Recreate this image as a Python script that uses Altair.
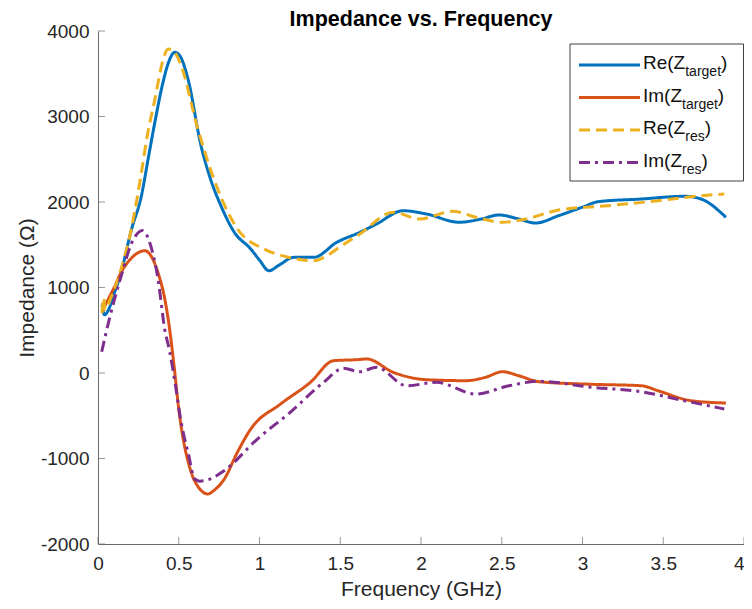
import altair as alt
import pandas as pd

# ---- data ----
re_t_f = [0.025, 0.04, 0.06, 0.10, 0.137, 0.208, 0.269, 0.31, 0.352, 0.40, 0.44, 0.475, 0.51, 0.557,
          0.638, 0.70, 0.761, 0.844, 0.946, 1.0, 1.059, 1.12, 1.213, 1.336, 1.479, 1.622, 1.725, 1.889,
          2.033, 2.237, 2.37, 2.483, 2.606, 2.709, 2.852, 3.0, 3.098, 3.365, 3.632, 3.734, 3.888]
re_t_v = [800, 680, 720, 930, 1135, 1684, 2074, 2500, 2932, 3380, 3650, 3751, 3700, 3439,
          2658, 2250, 1957, 1646, 1450, 1320, 1196, 1260, 1353, 1353, 1529, 1646, 1743, 1898,
          1860, 1763, 1800, 1848, 1801, 1754, 1840, 1940, 2004, 2035, 2067, 2035, 1821]

im_t_f = [0.023, 0.10, 0.15, 0.20, 0.29, 0.34, 0.38, 0.41, 0.44, 0.47, 0.50, 0.577, 0.62, 0.68, 0.72,
          0.782, 0.864, 0.946, 1.13, 1.315, 1.459, 1.602, 1.664, 1.828, 2.033, 2.279, 2.40, 2.504,
          2.606, 2.73, 3.058, 3.365, 3.467, 3.673, 3.888]
im_t_v = [717, 1000, 1200, 1330, 1430, 1330, 1120, 900, 560, 100, -420, -1161, -1330, -1415, -1370,
          -1240, -924, -655, -363, -109, 144, 156, 164, 8, -78, -90, -50, 15,
          -32, -102, -132, -149, -207, -324, -351]

re_r_f = [0.025, 0.035, 0.045, 0.08, 0.137, 0.208, 0.269, 0.30, 0.352, 0.40, 0.434, 0.475, 0.515,
          0.618, 0.741, 0.864, 1.028, 1.172, 1.336, 1.418, 1.479, 1.622, 1.828, 1.991, 2.197, 2.34,
          2.504, 2.648, 2.852, 3.16, 3.467, 3.673, 3.878]
re_r_v = [700, 880, 740, 880, 1180, 1700, 2347, 2720, 3200, 3640, 3789, 3750, 3594,
          2854, 2152, 1684, 1450, 1357, 1313, 1372, 1450, 1626, 1880, 1801, 1891, 1821,
          1763, 1801, 1906, 1957, 2015, 2062, 2094]

im_r_f = [0.023, 0.075, 0.137, 0.218, 0.276, 0.321, 0.372, 0.413, 0.444, 0.48, 0.515, 0.56, 0.598,
          0.63, 0.68, 0.782, 0.987, 1.19, 1.397, 1.52, 1.622, 1.725, 1.91, 2.094, 2.34, 2.545, 2.73,
          3.058, 3.365, 3.63, 3.878]
im_r_v = [249, 667, 1093, 1558, 1666, 1520, 1093, 513, 250, -150, -577, -950, -1240,
          -1265, -1250, -1142, -772, -460, -109, 55, 15, 67, -149, -109, -246, -149, -97,
          -167, -219, -324, -421]

series_base = ["Re(Z", "Im(Z", "Re(Z", "Im(Z"]
series_sub = ["target", "target", "res", "res"]
series_color = ["#0072BD", "#D95319", "#EDB120", "#7E2F8E"]
series_dash = [[1, 0], [1, 0], [11, 6], [11, 5, 3, 5]]

x_ticks = [0, 0.5, 1, 1.5, 2, 2.5, 3, 3.5, 4]
y_ticks = [-2000, -1000, 0, 1000, 2000, 3000, 4000]

FONT = "Liberation Sans"
W, H = 646, 513
AX = "#6b6b6b"
TXT = "#262626"

xs = alt.Scale(domain=[0, 4], nice=False, zero=False)
ys = alt.Scale(domain=[-2000, 4000], nice=False, zero=False)

x_axis = alt.Axis(values=x_ticks, labelExpr="'' + datum.value", ticks=False, grid=False,
                  domainColor=AX,
                  labelFontSize=19, labelFont=FONT, labelColor=TXT, labelPadding=10,
                  labelOverlap=False, labelFlush=False,
                  labelAlign={"condition": {"test": "datum.value == 4", "value": "right"},
                              "value": "center"},
                  title="Frequency (GHz)", titleFontSize=21, titleFont=FONT, titleColor=TXT,
                  titleFontWeight="normal", titleX=W / 2, titleY=45, titleBaseline="middle",
                  titleAlign="center")
y_axis = alt.Axis(values=y_ticks, labelExpr="'' + datum.value", ticks=False, grid=False,
                  domainColor=AX,
                  labelFontSize=19, labelFont=FONT, labelColor=TXT, labelPadding=9,
                  labelOverlap=False, labelFlush=False,
                  title="Impedance (Ω)", titleFontSize=21, titleFont=FONT, titleColor=TXT,
                  titleFontWeight="normal", titleX=-71, titleY=H / 2, titleAngle=-90,
                  titleBaseline="middle", titleAlign="center")

pairs = [(re_t_f, re_t_v), (im_t_f, im_t_v), (re_r_f, re_r_v), (im_r_f, im_r_v)]
layers = []
for i, (fs, vs) in enumerate(pairs):
    df = pd.DataFrame({"f": fs, "v": vs})
    layers.append(
        alt.Chart(df).mark_line(color=series_color[i], strokeDash=series_dash[i], strokeWidth=3,
                                interpolate="monotone", clip=True).encode(
            x=alt.X("f:Q", scale=xs, axis=x_axis),
            y=alt.Y("v:Q", scale=ys, axis=y_axis),
        )
    )

# inward tick marks (MATLAB style)
xt = alt.Chart(pd.DataFrame({"f": x_ticks})).mark_tick(color=AX, thickness=1, size=7).encode(
    x=alt.X("f:Q", scale=xs, axis=x_axis), y=alt.value(H - 3.5))
yt = alt.Chart(pd.DataFrame({"v": y_ticks})).mark_tick(color=AX, thickness=1, size=7).encode(
    y=alt.Y("v:Q", scale=ys, axis=y_axis), x=alt.value(3.5))

one = pd.DataFrame({"a": [0]})
# legend
LX0, LX1, LY0, LY1 = 472, 645.5, 13, 150
leg = [alt.Chart(one).mark_rect(fill="white", stroke="#404040", strokeWidth=1).encode(
    x=alt.value(LX0), x2=alt.value(LX1), y=alt.value(LY0), y2=alt.value(LY1))]
FS, SFS = 19, 14
wbase = {"Re(Z": 2.222 * FS, "Im(Z": 2.055 * FS}
wsub = {"target": 2.557 * SFS, "res": 1.389 * SFS}
for i in range(4):
    ly = 34 + 32.5 * i
    leg.append(alt.Chart(one).mark_rule(color=series_color[i], strokeDash=series_dash[i],
                                        strokeWidth=3).encode(
        x=alt.value(481), x2=alt.value(542), y=alt.value(ly)))
    tx = 545
    leg.append(alt.Chart(one).mark_text(align="left", baseline="alphabetic", fontSize=FS,
                                        font=FONT, color="#111111").encode(
        x=alt.value(tx), y=alt.value(ly + 4), text=alt.value(series_base[i])))
    sx = tx + wbase[series_base[i]]
    leg.append(alt.Chart(one).mark_text(align="left", baseline="alphabetic", fontSize=SFS,
                                        font=FONT, color="#111111").encode(
        x=alt.value(sx), y=alt.value(ly + 11), text=alt.value(series_sub[i])))
    px = sx + wsub[series_sub[i]]
    leg.append(alt.Chart(one).mark_text(align="left", baseline="alphabetic", fontSize=FS,
                                        font=FONT, color="#111111").encode(
        x=alt.value(px), y=alt.value(ly + 4), text=alt.value(")")))

chart = alt.layer(*layers, xt, yt, *leg).properties(
    width=W, height=H,
    title=alt.TitleParams("Impedance vs. Frequency", fontSize=21.5, fontWeight="bold",
                          font=FONT, color="#000000", anchor="middle", offset=5, dy=13),
    autosize=alt.AutoSizeParams(type="none"),
    padding={"left": 90, "top": 23, "right": 0, "bottom": 57},
).configure_view(strokeWidth=0)

chart.save("out.html", embed_options={"renderer": "svg", "actions": False})
